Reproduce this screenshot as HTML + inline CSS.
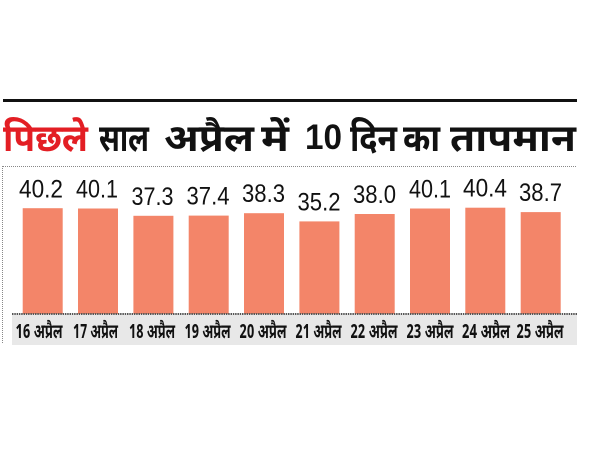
<!DOCTYPE html>
<html>
<head>
<meta charset="utf-8">
<style>
html,body{margin:0;padding:0;background:#fff;}
svg{display:block;}
.t{font-family:"Noto Sans Devanagari","Lohit Devanagari","Mangal","FreeSans","Liberation Sans",sans-serif;font-weight:bold;font-size:38px;}
.v{font-family:"Liberation Sans",sans-serif;font-size:25px;fill:#111;}
.c{font-family:"Noto Sans Devanagari","Lohit Devanagari","Mangal","FreeSans","Liberation Sans",sans-serif;font-weight:bold;font-size:20px;fill:#111;}
</style>
</head>
<body>
<svg width="600" height="450" viewBox="0 0 600 450" xmlns="http://www.w3.org/2000/svg">
<rect width="600" height="450" fill="#fff"/>
<!-- top thick rule -->
<rect x="3" y="99" width="574" height="3" fill="#111"/>
<!-- title -->
<text class="t" x="3" y="151" fill="#e31e24" textLength="85" lengthAdjust="spacingAndGlyphs">पिछले</text>
<text class="t" x="99" y="151" fill="#111" textLength="50" lengthAdjust="spacingAndGlyphs">साल</text>
<text class="t" x="164" y="151" fill="#111" textLength="90" lengthAdjust="spacingAndGlyphs">अप्रैल</text>
<text class="t" x="261" y="151" fill="#111" textLength="28" lengthAdjust="spacingAndGlyphs">में</text>
<text x="305" y="149" fill="#111" font-family="Liberation Sans, sans-serif" font-weight="bold" font-size="35" textLength="37" lengthAdjust="spacingAndGlyphs">10</text>
<text class="t" x="350" y="151" fill="#111" textLength="47" lengthAdjust="spacingAndGlyphs">दिन</text>
<text class="t" x="403" y="151" fill="#111" textLength="37" lengthAdjust="spacingAndGlyphs">का</text>
<text class="t" x="450" y="151" fill="#111" textLength="126" lengthAdjust="spacingAndGlyphs">तापमान</text>
<!-- dotted frame -->
<line x1="3" y1="166.5" x2="577" y2="166.5" stroke="#888" stroke-width="1" stroke-dasharray="1,1"/>
<line x1="2.5" y1="166" x2="2.5" y2="344" stroke="#888" stroke-width="1" stroke-dasharray="1,1"/>
<!-- gray label band -->
<rect x="12" y="315" width="565" height="30" fill="#e8e8e8"/>
<!-- bars -->
<g fill="#f38569">
<rect x="22.7" y="208.2" width="40" height="105.8"/>
<rect x="78.0" y="208.5" width="40" height="105.5"/>
<rect x="133.4" y="215.8" width="40" height="98.2"/>
<rect x="188.7" y="215.6" width="40" height="98.4"/>
<rect x="244.0" y="213.2" width="40" height="100.8"/>
<rect x="299.4" y="221.4" width="40" height="92.6"/>
<rect x="354.7" y="214.0" width="40" height="100.0"/>
<rect x="410.0" y="208.5" width="40" height="105.5"/>
<rect x="465.3" y="207.7" width="40" height="106.3"/>
<rect x="520.7" y="212.1" width="40" height="101.9"/>
</g>
<!-- axis -->
<line x1="12" y1="314" x2="577" y2="314" stroke="#555" stroke-width="2" stroke-dasharray="1.5,0.8"/>
<!-- value labels -->
<g class="v" text-anchor="middle">
<text x="41" y="197.5" textLength="44" lengthAdjust="spacingAndGlyphs">40.2</text>
<text x="97" y="197.5" textLength="42" lengthAdjust="spacingAndGlyphs">40.1</text>
<text x="152.5" y="204.8" textLength="42" lengthAdjust="spacingAndGlyphs">37.3</text>
<text x="208" y="204.6" textLength="43" lengthAdjust="spacingAndGlyphs">37.4</text>
<text x="263.5" y="202.2" textLength="43" lengthAdjust="spacingAndGlyphs">38.3</text>
<text x="319" y="210.4" textLength="43" lengthAdjust="spacingAndGlyphs">35.2</text>
<text x="374.5" y="203" textLength="43" lengthAdjust="spacingAndGlyphs">38.0</text>
<text x="430" y="197.5" textLength="42" lengthAdjust="spacingAndGlyphs">40.1</text>
<text x="485" y="196.7" textLength="44" lengthAdjust="spacingAndGlyphs">40.4</text>
<text x="540.5" y="201.1" textLength="43" lengthAdjust="spacingAndGlyphs">38.7</text>
</g>
<!-- category labels -->
<g class="c" text-anchor="middle">
<text x="39" y="338" textLength="47" lengthAdjust="spacingAndGlyphs">16 अप्रैल</text>
<text x="95.5" y="338" textLength="45" lengthAdjust="spacingAndGlyphs">17 अप्रैल</text>
<text x="152" y="338" textLength="46" lengthAdjust="spacingAndGlyphs">18 अप्रैल</text>
<text x="207.5" y="338" textLength="46" lengthAdjust="spacingAndGlyphs">19 अप्रैल</text>
<text x="263" y="338" textLength="47" lengthAdjust="spacingAndGlyphs">20 अप्रैल</text>
<text x="318.5" y="338" textLength="46" lengthAdjust="spacingAndGlyphs">21 अप्रैल</text>
<text x="374" y="338" textLength="47" lengthAdjust="spacingAndGlyphs">22 अप्रैल</text>
<text x="430" y="338" textLength="47" lengthAdjust="spacingAndGlyphs">23 अप्रैल</text>
<text x="486" y="338" textLength="48" lengthAdjust="spacingAndGlyphs">24 अप्रैल</text>
<text x="540" y="338" textLength="47" lengthAdjust="spacingAndGlyphs">25 अप्रैल</text>
</g>
</svg>
</body>
</html>
